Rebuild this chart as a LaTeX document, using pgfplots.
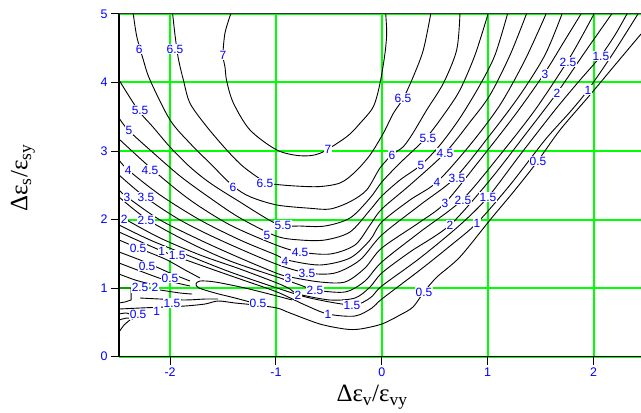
\documentclass[border=0pt]{standalone}
\usepackage{pgfplots}
\pgfplotsset{compat=1.18}
\usepackage{fontspec}
\setmainfont{Liberation Serif}
\newfontfamily\sansf{Liberation Sans}
\definecolor{mcgreen}{RGB}{0,255,0}
\definecolor{mcblue}{RGB}{0,0,255}
\tikzset{
  cl/.style={black, line width=0.9bp, smooth, tension=0.5},
  lbl/.style={font=\sansf\fontsize{12}{12}\selectfont, text=mcblue, fill=white, inner sep=0.6bp},
}
\begin{document}
\begin{tikzpicture}[x=1bp,y=1bp]
\useasboundingbox (0,0) rectangle (641,412);
\begin{axis}[
  at={(119bp,55.5bp)}, anchor=south west,
  scale only axis, width=522bp, height=342.5bp,
  xmin=-2.482, xmax=2.448, ymin=0, ymax=5,
  axis line style={draw=none},
  xtick={-2,-1,0,1,2}, ytick={0,1,2,3,4,5},
  xticklabels={-2,-1,0,1,2},
  yticklabels={0,1,2,3,4,5},
  grid=major, grid style={draw=mcgreen, line width=2bp},
  tick align=outside, tick pos=left,
  major tick length=8bp, tick style={black, line width=1bp},
  ticklabel style={font=\sansf\fontsize{12.5}{12.5}\selectfont, text=mcblue},
  clip mode=individual,
]
% level 7
\addplot[cl] coordinates {(-1.427,5.0) (-1.481,4.723) (-1.500,4.401) (-1.481,4.226) (-1.465,4.022) (-1.402,3.701) (-1.245,3.307) (-0.992,3.015) (-0.772,2.931) (-0.584,2.966) (-0.331,3.209) (-0.206,3.404) (-0.080,3.647) (-0.017,3.988) (0.030,4.426) (0.046,4.718) (0.037,5.0)};
% level 6.5
\addplot[cl] coordinates {(-1.975,5.0) (-1.953,4.693) (-1.922,4.353) (-1.874,4.036) (-1.811,3.696) (-1.653,3.355) (-1.465,3.015) (-1.308,2.771) (-1.103,2.552) (-0.945,2.504) (-0.615,2.479) (-0.395,2.533) (-0.253,2.693) (-0.111,2.942) (0.014,3.258) (0.109,3.550) (0.203,3.769) (0.297,4.085) (0.392,4.474) (0.462,5.0)};
% level 6
\addplot[cl] coordinates {(-2.347,5.0) (-2.314,4.669) (-2.252,4.328) (-2.189,4.036) (-2.0,3.453) (-1.811,3.112) (-1.622,2.820) (-1.405,2.489) (-1.245,2.333) (-0.992,2.212) (-0.678,2.164) (-0.489,2.153) (-0.300,2.260) (-0.143,2.431) (-0.017,2.752) (0.096,2.942) (0.203,3.063) (0.295,3.263) (0.424,3.599) (0.581,3.988) (0.707,4.474) (0.738,5.0)};
% level 5.5
\addplot[cl] coordinates {(-2.482,4.036) (-2.302,3.599) (-2.161,3.350) (-2.0,3.058) (-1.811,2.766) (-1.622,2.533) (-1.370,2.285) (-0.990,1.934) (-0.772,1.905) (-0.536,1.905) (-0.300,2.022) (-0.111,2.314) (0,2.547) (0.172,2.825) (0.417,3.190) (0.597,3.555) (0.738,3.891) (0.880,4.401) (1.003,5.0)};
% level 5
\addplot[cl] coordinates {(-2.482,3.482) (-2.396,3.307) (-2.189,3.015) (-1.906,2.635) (-1.622,2.314) (-1.339,2.022) (-0.999,1.759) (-0.772,1.701) (-0.536,1.701) (-0.300,1.818) (-0.111,2.139) (0,2.343) (0.172,2.577) (0.370,2.796) (0.550,3.088) (0.738,3.482) (0.927,3.964) (1.069,4.401) (1.187,5.0)};
% level 4.5
\addplot[cl] coordinates {(-2.482,3.175) (-2.161,2.723) (-1.811,2.285) (-1.433,1.920) (-0.999,1.628) (-0.772,1.526) (-0.489,1.496) (-0.253,1.628) (-0.111,1.920) (0,2.153) (0.266,2.504) (0.597,2.971) (0.833,3.423) (1.022,3.818) (1.211,4.401) (1.366,5.0)};
% level 4
\addplot[cl] coordinates {(-2.482,2.869) (-2.396,2.723) (-2.094,2.358) (-1.717,1.993) (-1.339,1.701) (-0.999,1.482) (-0.895,1.409) (-0.584,1.336) (-0.300,1.438) (-0.111,1.701) (0,1.964) (0.266,2.285) (0.521,2.547) (0.833,3.088) (1.116,3.672) (1.352,4.328) (1.551,5.0)};
% level 3.5
\addplot[cl] coordinates {(-2.482,2.650) (-2.236,2.328) (-1.906,1.993) (-1.528,1.701) (-0.999,1.350) (-0.697,1.219) (-0.442,1.219) (-0.206,1.409) (0,1.774) (0.361,2.212) (0.691,2.606) (1.022,3.234) (1.305,3.818) (1.541,4.401) (1.702,5.0)};
% level 3
\addplot[cl] coordinates {(-2.482,2.431) (-2.406,2.328) (-2.094,1.993) (-1.717,1.701) (-1.339,1.438) (-0.999,1.219) (-0.867,1.161) (-0.584,1.088) (-0.347,1.088) (-0.159,1.292) (0,1.584) (0.361,1.964) (0.597,2.241) (0.927,2.869) (1.258,3.526) (1.532,4.124) (1.730,4.620) (1.881,5.0)};
% level 2.5
\addplot[cl] coordinates {(-2.482,2.328) (-2.208,1.993) (-1.811,1.657) (-1.433,1.394) (-0.990,1.161) (-0.772,1.044) (-0.631,0.971) (-0.347,0.942) (-0.159,1.102) (0,1.380) (0.361,1.818) (0.757,2.285) (1.116,2.942) (1.447,3.599) (1.749,4.299) (1.881,4.650) (2.004,5.0)};
% level 2
\addplot[cl] coordinates {(-2.482,2.080) (-2.425,2.007) (-2.094,1.730) (-1.717,1.482) (-1.339,1.277) (-0.990,1.073) (-0.867,0.985) (-0.791,0.912) (-0.489,0.825) (-0.253,0.854) (-0.111,1.015) (0,1.219) (0.266,1.526) (0.644,1.920) (1.022,2.577) (1.352,3.234) (1.654,3.847) (1.919,4.445) (2.171,5.0)};
% level 1.5
\addplot[cl] coordinates {(-2.482,1.920) (-2.189,1.701) (-1.839,1.482) (-1.433,1.234) (-0.990,1.0) (-0.678,0.854) (-0.281,0.752) (-0.111,0.854) (0,1.029) (0.361,1.438) (0.738,1.920) (1.003,2.328) (1.305,2.942) (1.636,3.599) (1.872,4.036) (2.060,4.372) (2.202,4.693) (2.315,5.0)};
% level 1
\addplot[cl] coordinates {(-2.482,1.818) (-2.076,1.540) (-1.717,1.336) (-1.339,1.131) (-0.990,0.942) (-0.725,0.752) (-0.508,0.620) (-0.253,0.591) (-0.093,0.708) (0,0.839) (0.361,1.263) (0.644,1.613) (0.899,1.949) (1.211,2.504) (1.541,3.161) (1.777,3.569) (1.947,3.891) (2.174,4.401) (2.419,5.0)};
% level 0.5 (lowest line)
\addplot[cl] coordinates {(-2.482,0.693) (-2.283,0.708) (-2.047,0.723) (-1.858,0.737) (-1.670,0.766) (-1.547,0.810) (-1.386,0.781) (-1.197,0.752) (-0.990,0.708) (-0.867,0.635) (-0.584,0.474) (-0.347,0.401) (-0.206,0.401) (0,0.474) (0.172,0.606) (0.295,0.723) (0.398,0.942) (0.521,1.161) (0.738,1.453) (1.022,1.993) (1.258,2.431) (1.466,2.839) (1.683,3.307) (1.966,3.818) (2.202,4.255) (2.448,4.708)};
% lower-left structure
\addplot[cl] coordinates {(-0.848,0.825) (-0.990,0.883) (-1.292,1.0) (-1.575,1.088) (-1.717,1.102) (-1.755,1.058) (-1.726,1.0) (-1.575,0.927) (-1.386,0.854) (-1.246,0.796)};
\addplot[cl] coordinates {(-2.482,1.701) (-2.302,1.584) (-2.047,1.423) (-1.858,1.263) (-1.717,1.146)};
\addplot[cl] coordinates {(-2.482,1.526) (-2.236,1.380) (-2.0,1.219) (-1.811,1.102)};
\addplot[cl] coordinates {(-2.482,1.365) (-2.283,1.248) (-2.047,1.117) (-1.811,1.029)};
\addplot[cl] coordinates {(-2.482,1.204) (-2.330,1.117) (-2.189,1.058)};
\addplot[black, line width=0.9bp] coordinates {(-2.482,1.0) (-2.368,1.0) (-2.368,0.825) (-2.425,0.796) (-2.482,0.781)};
\addplot[cl] coordinates {(-2.094,0.971) (-1.906,0.927) (-1.792,0.912)};
\addplot[cl] coordinates {(-2.283,0.854) (-2.094,0.839) (-1.858,0.825) (-1.670,0.839) (-1.547,0.839)};
\addplot[cl] coordinates {(-2.482,0.620) (-2.415,0.635) (-2.359,0.606)};
\addplot[cl] coordinates {(-2.482,0.533) (-2.406,0.562) (-2.350,0.547)};
\addplot[cl] coordinates {(-2.482,0.357) (-2.434,0.460) (-2.378,0.533)};
% labels
\node[lbl] at (axis cs:-2.292,4.489) {6};
\node[lbl] at (axis cs:-1.953,4.489) {6.5};
\node[lbl] at (axis cs:-1.500,4.401) {7};
\node[lbl] at (axis cs:-2.283,3.599) {5.5};
\node[lbl] at (axis cs:-2.387,3.307) {5};
\node[lbl] at (axis cs:-2.396,2.723) {4};
\node[lbl] at (axis cs:-2.189,2.723) {4.5};
\node[lbl] at (axis cs:-2.406,2.328) {3};
\node[lbl] at (axis cs:-2.227,2.328) {3.5};
\node[lbl] at (axis cs:-2.434,2.007) {2};
\node[lbl] at (axis cs:-2.227,1.993) {2.5};
\node[lbl] at (axis cs:-2.302,1.584) {0.5};
\node[lbl] at (axis cs:-2.079,1.540) {1};
\node[lbl] at (axis cs:-1.933,1.482) {1.5};
\node[lbl] at (axis cs:-2.217,1.321) {0.5};
\node[lbl] at (axis cs:-2.0,1.146) {0.5};
\node[lbl] at (axis cs:-2.283,1.004) {2.5};
\node[lbl] at (axis cs:-2.142,1.004) {2};
\node[lbl] at (axis cs:-1.982,0.781) {1.5};
\node[lbl] at (axis cs:-2.302,0.620) {0.5};
\node[lbl] at (axis cs:-2.127,0.663) {1};
\node[lbl] at (axis cs:-1.405,2.474) {6};
\node[lbl] at (axis cs:-1.103,2.533) {6.5};
\node[lbl] at (axis cs:-0.508,3.029) {7};
\node[lbl] at (axis cs:-0.933,1.920) {5.5};
\node[lbl] at (axis cs:-1.084,1.774) {5};
\node[lbl] at (axis cs:-0.772,1.526) {4.5};
\node[lbl] at (axis cs:-0.914,1.394) {4};
\node[lbl] at (axis cs:-0.707,1.219) {3.5};
\node[lbl] at (axis cs:-0.886,1.146) {3};
\node[lbl] at (axis cs:-0.631,0.971) {2.5};
\node[lbl] at (axis cs:-0.791,0.898) {2};
\node[lbl] at (axis cs:-0.281,0.752) {1.5};
\node[lbl] at (axis cs:-0.508,0.620) {1};
\node[lbl] at (axis cs:-1.169,0.781) {0.5};
\node[lbl] at (axis cs:0.200,3.774) {6.5};
\node[lbl] at (axis cs:0.096,2.942) {6};
\node[lbl] at (axis cs:0.436,3.190) {5.5};
\node[lbl] at (axis cs:0.370,2.796) {5};
\node[lbl] at (axis cs:0.597,2.971) {4.5};
\node[lbl] at (axis cs:0.521,2.547) {4};
\node[lbl] at (axis cs:0.710,2.606) {3.5};
\node[lbl] at (axis cs:0.597,2.241) {3};
\node[lbl] at (axis cs:0.767,2.285) {2.5};
\node[lbl] at (axis cs:0.644,1.920) {2};
\node[lbl] at (axis cs:1.003,2.328) {1.5};
\node[lbl] at (axis cs:0.899,1.949) {1};
\node[lbl] at (axis cs:0.398,0.942) {0.5};
\node[lbl] at (axis cs:1.475,2.854) {0.5};
\node[lbl] at (axis cs:1.541,4.124) {3};
\node[lbl] at (axis cs:1.758,4.299) {2.5};
\node[lbl] at (axis cs:1.654,3.847) {2};
\node[lbl] at (axis cs:2.069,4.387) {1.5};
\node[lbl] at (axis cs:1.947,3.891) {1};
% frame
\draw[black, line width=1.2bp] (rel axis cs:0,1) -- (rel axis cs:0,0) -- (rel axis cs:1,0);
\draw[black!80, line width=1bp] (rel axis cs:0,1) -- (rel axis cs:1,1);
\end{axis}
\node at (372,15) {\fontsize{25}{25}\selectfont Δε\textsubscript{v}/ε\textsubscript{vy}};
\node[rotate=90] at (23,234) {\fontsize{25}{25}\selectfont Δε\textsubscript{s}/ε\textsubscript{sy}};
\end{tikzpicture}
\end{document}
